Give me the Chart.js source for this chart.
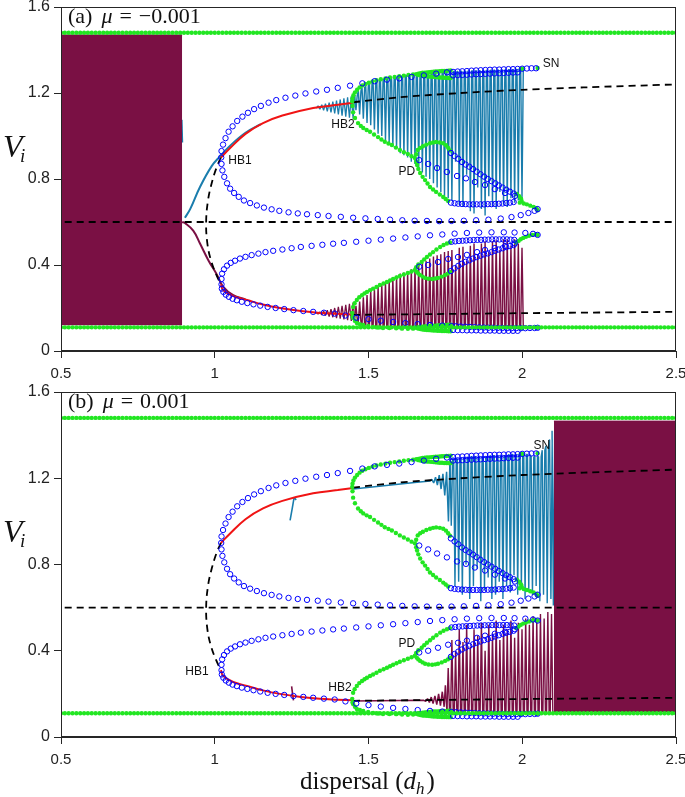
<!DOCTYPE html>
<html>
<head>
<meta charset="utf-8">
<script src="https://cdn.jsdelivr.net/npm/chart.js@4.4.1/dist/chart.umd.min.js"></script>
<style>
html, body { margin: 0; padding: 0; background: #fff; }
#wrap { position: relative; width: 685px; height: 797px; }
#c1 { position: absolute; left: 0; top: 0; }
#c2 { position: absolute; left: 0; top: 380px; }
</style>
</head>
<body>
<div id="wrap">
  <canvas id="c1" width="685" height="380"></canvas>
  <canvas id="c2" width="685" height="417"></canvas>
</div>
<script>
// ---- axis ticks
var xTicks = [0.5, 1, 1.5, 2, 2.5];
var yTicks = [0, 0.4, 0.8, 1.2, 1.6];

// ---- sweep of the attractor extremes (green dots along the top / bottom)
var sweepStart = 0.5, sweepEnd = 2.5, sweepStep = 0.0125;
var bandMax = 1.48, bandMin = 0.11;

// ---- equilibria (shared by both panels)
var eqMiddle = [[0.512,0.6],[2.5,0.6]];
var eqArc = [[1.02,0.90],[1.005,0.85],[0.99,0.78],[0.978,0.70],[0.972,0.60],[0.976,0.50],[0.988,0.42],[1.005,0.355],[1.02,0.31]];
var eqUpperStable = [[1.02,0.90],[1.05,0.944],[1.10,1.01],[1.157,1.06],[1.22,1.095],[1.32,1.13],[1.40,1.145],[1.45,1.155]];
var eqLowerStable = [[1.02,0.31],[1.027,0.284],[1.06,0.255],[1.105,0.237],[1.16,0.215],[1.212,0.20],[1.28,0.186],[1.342,0.177],[1.40,0.173],[1.45,0.17]];
var eqUpperUnstable = [[1.45,1.157],[1.6,1.18],[1.8,1.20],[2.0,1.215],[2.2,1.226],[2.5,1.24]];
var eqLowerUnstable = [[1.45,0.168],[1.8,0.173],[2.0,0.176],[2.5,0.182]];

// ---- unstable periodic orbits (blue rings)
var upoUpperMax = [[1.021,0.90],[1.022,0.93],[1.027,0.96],[1.035,0.99],[1.045,1.02],[1.058,1.045],[1.073,1.07],[1.09,1.09],[1.108,1.108],[1.128,1.125],[1.15,1.14],[1.175,1.155],[1.2,1.167],[1.23,1.178],[1.262,1.188],[1.295,1.198],[1.33,1.207],[1.365,1.215],[1.40,1.224],[1.44,1.234],[1.48,1.245],[1.52,1.255],[1.56,1.262],[1.60,1.268],[1.64,1.275],[1.68,1.282],[1.72,1.29],[1.755,1.296],[1.775,1.298],[1.79,1.30],[1.805,1.301],[1.82,1.302],[1.835,1.304],[1.85,1.305],[1.865,1.306],[1.88,1.307],[1.895,1.308],[1.91,1.309],[1.925,1.309],[1.94,1.31],[1.955,1.311],[1.97,1.311],[1.985,1.312],[2.0,1.313],[2.015,1.314],[2.03,1.315],[2.045,1.315]];
var upoUpperMax2 = [[1.775,1.282],[1.79,1.283],[1.805,1.284],[1.82,1.285],[1.835,1.286],[1.85,1.287],[1.865,1.288],[1.88,1.289],[1.895,1.29],[1.91,1.291],[1.925,1.292],[1.94,1.293],[1.955,1.294],[1.97,1.295],[1.985,1.296]];
var upoUpperMin = [[1.022,0.87],[1.025,0.84],[1.031,0.81],[1.04,0.78],[1.05,0.755],[1.063,0.735],[1.078,0.717],[1.095,0.70],[1.115,0.688],[1.137,0.677],[1.16,0.667],[1.185,0.659],[1.21,0.652],[1.24,0.645],[1.27,0.64],[1.30,0.636],[1.335,0.632],[1.37,0.628],[1.41,0.624],[1.45,0.62],[1.49,0.617],[1.53,0.614],[1.57,0.611],[1.61,0.608],[1.65,0.606],[1.69,0.605],[1.73,0.604],[1.77,0.605],[1.81,0.606],[1.85,0.608],[1.89,0.611],[1.93,0.616],[1.965,0.623],[1.995,0.632],[2.02,0.642],[2.04,0.652],[2.05,0.66]];
var upoLowerMax = [[1.022,0.335],[1.024,0.36],[1.03,0.38],[1.04,0.397],[1.052,0.41],[1.066,0.42],[1.082,0.43],[1.1,0.438],[1.12,0.446],[1.142,0.453],[1.165,0.46],[1.19,0.466],[1.22,0.472],[1.25,0.478],[1.28,0.484],[1.315,0.489],[1.35,0.494],[1.385,0.499],[1.42,0.503],[1.46,0.508],[1.50,0.513],[1.54,0.518],[1.58,0.523],[1.62,0.528],[1.66,0.533],[1.70,0.538],[1.74,0.542],[1.78,0.546],[1.82,0.549],[1.86,0.551],[1.90,0.552],[1.94,0.552],[1.975,0.551],[2.01,0.549],[2.035,0.545],[2.05,0.54]];
var upoLowerMin = [[1.022,0.31],[1.023,0.29],[1.028,0.275],[1.036,0.262],[1.046,0.252],[1.058,0.243],[1.072,0.236],[1.088,0.229],[1.106,0.223],[1.126,0.217],[1.148,0.211],[1.172,0.205],[1.198,0.2],[1.226,0.195],[1.256,0.19],[1.288,0.186],[1.32,0.182],[1.355,0.178],[1.39,0.174],[1.425,0.165],[1.46,0.155],[1.50,0.148],[1.54,0.141],[1.58,0.135],[1.62,0.13],[1.66,0.125],[1.70,0.121],[1.74,0.118],[1.77,0.116],[1.785,0.115],[1.80,0.114],[1.815,0.113],[1.83,0.112],[1.845,0.111],[1.86,0.11],[1.875,0.109],[1.89,0.108],[1.905,0.108],[1.92,0.107],[1.935,0.107],[1.95,0.106],[1.965,0.106],[1.98,0.106],[1.995,0.106],[2.01,0.106],[2.025,0.107],[2.04,0.107],[2.05,0.108]];
var upoLowerMin2 = [[1.775,0.098],[1.79,0.097],[1.805,0.097],[1.82,0.096],[1.835,0.096],[1.85,0.096],[1.865,0.095],[1.88,0.095],[1.895,0.095],[1.91,0.095],[1.925,0.094],[1.94,0.094],[1.955,0.094],[1.97,0.094],[1.985,0.094]];
var upoP1Upper = [[1.665,0.888],[1.694,0.870],[1.723,0.851],[1.755,0.833],[1.788,0.814],[1.817,0.803],[1.846,0.786],[1.879,0.772],[1.911,0.753],[1.944,0.735],[1.976,0.721]];
var upoP2UpperHigh = [[1.768,0.921],[1.78,0.907],[1.792,0.894],[1.804,0.879],[1.816,0.867],[1.828,0.857],[1.84,0.846],[1.852,0.834],[1.864,0.822],[1.876,0.811],[1.888,0.80],[1.90,0.79],[1.912,0.78],[1.924,0.77],[1.936,0.76],[1.948,0.75],[1.96,0.741],[1.972,0.732]];
var upoP2UpperLow = [[1.768,0.69],[1.78,0.687],[1.792,0.685],[1.804,0.684],[1.816,0.683],[1.828,0.682],[1.84,0.682],[1.852,0.682],[1.864,0.682],[1.876,0.682],[1.888,0.683],[1.90,0.683],[1.912,0.684],[1.924,0.685],[1.936,0.686],[1.948,0.688],[1.96,0.69],[1.972,0.693]];
var upoP1Lower = [[1.665,0.392],[1.694,0.40],[1.726,0.414],[1.759,0.428],[1.791,0.437],[1.82,0.447],[1.853,0.46],[1.879,0.47],[1.911,0.479],[1.944,0.488],[1.976,0.50]];
var upoP2LowerHigh = [[1.77,0.508],[1.782,0.51],[1.794,0.512],[1.806,0.513],[1.818,0.514],[1.83,0.515],[1.842,0.516],[1.854,0.517],[1.866,0.517],[1.878,0.518],[1.89,0.518],[1.902,0.519],[1.914,0.519],[1.926,0.519],[1.938,0.519],[1.95,0.519],[1.962,0.518],[1.974,0.517]];
var upoP2LowerLow = [[1.768,0.372],[1.78,0.385],[1.792,0.396],[1.804,0.406],[1.816,0.415],[1.828,0.422],[1.84,0.43],[1.852,0.437],[1.864,0.443],[1.876,0.449],[1.888,0.454],[1.90,0.46],[1.912,0.466],[1.924,0.472],[1.936,0.478],[1.948,0.483],[1.96,0.488],[1.972,0.493]];

// ---- stable periodic orbits (green dots)
var poUpperMax = [[1.447,1.16],[1.448,1.175],[1.451,1.19],[1.456,1.203],[1.463,1.215],[1.471,1.226],[1.48,1.235],[1.49,1.242],[1.501,1.248],[1.513,1.254],[1.526,1.259],[1.54,1.264],[1.555,1.268],[1.57,1.272],[1.585,1.275],[1.60,1.278],[1.615,1.281],[1.63,1.284],[1.645,1.286]];
var poUpperMin = [[1.448,1.14],[1.45,1.11],[1.456,1.084],[1.466,1.06],[1.475,1.047],[1.483,1.037],[1.494,1.028],[1.505,1.02],[1.518,1.007],[1.531,0.995],[1.542,0.984],[1.553,0.973],[1.565,0.965],[1.576,0.958],[1.589,0.946],[1.602,0.935],[1.615,0.925],[1.628,0.916],[1.64,0.906],[1.651,0.898]];
var poLowerMax = [[1.447,0.177],[1.45,0.205],[1.455,0.222],[1.462,0.237],[1.47,0.25],[1.479,0.26],[1.487,0.268],[1.495,0.275],[1.505,0.283],[1.515,0.29],[1.526,0.298],[1.537,0.307],[1.549,0.314],[1.56,0.321],[1.57,0.328],[1.58,0.335],[1.591,0.342],[1.602,0.349],[1.615,0.356],[1.628,0.363],[1.64,0.37],[1.651,0.377]];
var poLowerMin = [[1.448,0.16],[1.45,0.153],[1.456,0.14],[1.462,0.13],[1.472,0.125],[1.483,0.121],[1.499,0.116],[1.515,0.112],[1.531,0.109],[1.547,0.107],[1.568,0.107],[1.59,0.106],[1.609,0.104],[1.628,0.103],[1.645,0.104]];
var lensTopHigh = [[1.655,1.288],[1.662,1.29],[1.669,1.292],[1.676,1.294],[1.683,1.295],[1.69,1.296],[1.697,1.297],[1.704,1.298],[1.711,1.299],[1.718,1.30],[1.725,1.30],[1.732,1.301],[1.739,1.302],[1.746,1.302],[1.753,1.303],[1.76,1.304],[1.767,1.305]];
var lensTopLow = [[1.662,1.284],[1.669,1.282],[1.676,1.28],[1.683,1.279],[1.69,1.278],[1.697,1.277],[1.704,1.276],[1.711,1.275],[1.718,1.274],[1.725,1.273],[1.732,1.272],[1.739,1.272],[1.746,1.271],[1.753,1.271],[1.76,1.27],[1.767,1.27]];
var lensBottomHigh = [[1.655,0.108],[1.662,0.11],[1.669,0.112],[1.676,0.113],[1.683,0.114],[1.69,0.115],[1.697,0.116],[1.704,0.117],[1.711,0.118],[1.718,0.118],[1.725,0.119],[1.732,0.12],[1.739,0.12],[1.746,0.121],[1.753,0.121],[1.76,0.122],[1.767,0.122]];
var lensBottomLow = [[1.662,0.104],[1.669,0.102],[1.676,0.1],[1.683,0.099],[1.69,0.098],[1.697,0.097],[1.704,0.096],[1.711,0.095],[1.718,0.095],[1.725,0.094],[1.732,0.094],[1.739,0.093],[1.746,0.093],[1.753,0.093],[1.76,0.092],[1.767,0.092]];
var pdUpperHigh = [[1.655,0.915],[1.66,0.935],[1.668,0.945],[1.677,0.952],[1.688,0.96],[1.70,0.966],[1.71,0.97],[1.72,0.972],[1.732,0.97],[1.743,0.966],[1.752,0.957],[1.759,0.945],[1.765,0.933]];
var pdUpperLow = [[1.655,0.88],[1.658,0.865],[1.662,0.847],[1.668,0.828],[1.676,0.81],[1.684,0.795],[1.692,0.779],[1.70,0.763],[1.71,0.751],[1.72,0.74],[1.732,0.728],[1.743,0.716],[1.751,0.707],[1.759,0.698]];
var pdLowerHigh = [[1.655,0.39],[1.662,0.402],[1.673,0.414],[1.681,0.426],[1.69,0.437],[1.70,0.449],[1.71,0.46],[1.721,0.472],[1.733,0.484],[1.744,0.493],[1.755,0.50],[1.765,0.505]];
var pdLowerLow = [[1.657,0.368],[1.662,0.36],[1.668,0.353],[1.676,0.346],[1.684,0.34],[1.695,0.336],[1.707,0.335],[1.717,0.337],[1.726,0.34],[1.738,0.346],[1.749,0.353],[1.758,0.36],[1.765,0.368]];
var foldUpper = [[1.982,0.73],[1.99,0.72],[1.996,0.708],[1.998,0.698],[1.992,0.69],[2.005,0.686],[2.015,0.682],[2.026,0.676],[2.037,0.67],[2.046,0.664]];
var foldLower = [[1.98,0.505],[1.988,0.512],[1.995,0.52],[2.003,0.526],[2.012,0.531],[2.022,0.536],[2.033,0.54],[2.044,0.543]];
var snDots = [[1.995,1.312],[2.0,1.313],[2.05,1.316],[1.995,0.106],[2.0,0.106],[2.05,0.108],[2.05,0.655],[2.05,0.54]];

// ---- panel (a) simulation, mu = -0.001
var blockA = [[0.5,1.47],[0.894,1.47]];
var blockBaseA = 0.12;
var tealEdgeA = [[0.893,1.075],[0.895,0.97]];
var tealLineA = [[0.903,0.62],[0.92,0.66],[0.952,0.763],[0.99,0.86],[1.017,0.905],[1.05,0.955],[1.10,1.015],[1.15,1.055]];
var maroonLineA = [[0.894,0.6],[0.903,0.595],[0.93,0.56],[0.952,0.50],[0.98,0.42],[1.007,0.355],[1.027,0.30],[1.06,0.26],[1.10,0.24]];
var tealOscA = [[1.33,1.13],[1.336,1.14],[1.342,1.125],[1.348,1.145],[1.354,1.12],[1.36,1.15],[1.366,1.115],[1.372,1.155],[1.378,1.11],[1.384,1.16],[1.39,1.105],[1.396,1.165],[1.402,1.10],[1.408,1.17],[1.414,1.095],[1.42,1.175],[1.426,1.09],[1.432,1.18],[1.438,1.085],[1.444,1.185],[1.45,1.08],[1.455,1.19]];
var maroonOscA = [[1.33,0.178],[1.336,0.172],[1.342,0.182],[1.348,0.168],[1.354,0.186],[1.36,0.165],[1.366,0.19],[1.372,0.16],[1.378,0.195],[1.384,0.157],[1.39,0.20],[1.396,0.153],[1.402,0.205],[1.408,0.15],[1.414,0.21],[1.42,0.147],[1.426,0.215],[1.432,0.143],[1.438,0.22],[1.444,0.14],[1.45,0.225],[1.455,0.15]];
// [d, top, bottom]
var tealSpikesA = [[1.455,1.19,1.12],[1.467,1.21,1.10],[1.479,1.225,1.08],[1.491,1.235,1.06],[1.503,1.245,1.05],[1.515,1.25,1.03],[1.527,1.255,1.01],[1.539,1.26,1.00],[1.551,1.265,0.98],[1.563,1.268,0.97],[1.575,1.272,0.95],[1.587,1.275,0.94],[1.599,1.278,0.92],[1.611,1.28,0.91],[1.623,1.283,0.90],[1.635,1.285,0.88],[1.647,1.287,0.87],[1.659,1.289,0.85],[1.671,1.29,0.83],[1.683,1.292,0.81],[1.695,1.293,0.80],[1.707,1.295,0.78],[1.719,1.296,0.76],[1.731,1.297,0.74],[1.743,1.298,0.72],[1.755,1.299,0.71],[1.767,1.30,0.70],[1.779,1.30,0.88],[1.791,1.30,0.68],[1.803,1.302,0.67],[1.815,1.302,0.82],[1.827,1.303,0.65],[1.839,1.303,0.64],[1.851,1.304,0.76],[1.863,1.304,0.66],[1.875,1.305,0.63],[1.887,1.305,0.72],[1.899,1.306,0.67],[1.911,1.306,0.66],[1.923,1.307,0.74],[1.935,1.307,0.68],[1.947,1.308,0.67],[1.959,1.308,0.71],[1.971,1.309,0.69],[1.983,1.309,0.70],[1.995,1.31,0.71]];
// [d, base, tip]
var maroonSpikesA = [[1.455,0.15,0.21],[1.467,0.135,0.23],[1.479,0.125,0.25],[1.491,0.12,0.26],[1.503,0.118,0.28],[1.515,0.115,0.29],[1.527,0.113,0.30],[1.539,0.112,0.31],[1.551,0.111,0.32],[1.563,0.11,0.33],[1.575,0.11,0.34],[1.587,0.11,0.35],[1.599,0.11,0.36],[1.611,0.11,0.365],[1.623,0.11,0.37],[1.635,0.11,0.38],[1.647,0.11,0.39],[1.659,0.11,0.40],[1.671,0.11,0.41],[1.683,0.11,0.42],[1.695,0.11,0.43],[1.707,0.11,0.44],[1.719,0.11,0.445],[1.731,0.11,0.45],[1.743,0.11,0.46],[1.755,0.11,0.465],[1.767,0.11,0.47],[1.779,0.11,0.40],[1.791,0.11,0.48],[1.803,0.11,0.485],[1.815,0.11,0.42],[1.827,0.11,0.49],[1.839,0.11,0.50],[1.851,0.11,0.45],[1.863,0.11,0.50],[1.875,0.11,0.51],[1.887,0.11,0.46],[1.899,0.11,0.51],[1.911,0.11,0.515],[1.923,0.11,0.47],[1.935,0.11,0.52],[1.947,0.11,0.52],[1.959,0.11,0.49],[1.971,0.11,0.52],[1.983,0.11,0.50],[1.995,0.11,0.48]];

// ---- panel (b) simulation, mu = 0.001
var blockB = [[2.103,1.465],[2.5,1.465]];
var blockBaseB = 0.115;
var tealGlitchB = [[1.245,1.005],[1.252,1.06],[1.258,1.11],[1.265,1.10]];
var maroonGlitchB = [[1.25,0.235],[1.253,0.2],[1.256,0.17]];
var tealLineB = [[1.45,1.15],[1.55,1.165],[1.65,1.18],[1.70,1.187],[1.706,1.195],[1.712,1.178],[1.718,1.205],[1.724,1.168],[1.73,1.215],[1.736,1.15],[1.742,1.22],[1.748,1.12],[1.754,1.23],[1.76,1.0],[1.765,1.29]];
var maroonLineB = [[1.45,0.167],[1.68,0.17],[1.686,0.165],[1.692,0.178],[1.698,0.16],[1.704,0.185],[1.71,0.155],[1.716,0.19],[1.722,0.15],[1.728,0.2],[1.734,0.145],[1.74,0.21],[1.746,0.14],[1.75,0.24],[1.755,0.12]];
var tealSpikesB = [[1.765,1.29,0.98],[1.777,1.29,0.70],[1.789,1.29,0.72],[1.801,1.295,0.66],[1.813,1.295,0.80],[1.825,1.30,0.64],[1.837,1.30,0.70],[1.849,1.30,0.78],[1.861,1.30,0.63],[1.873,1.30,0.68],[1.885,1.30,0.74],[1.897,1.305,0.64],[1.909,1.305,0.66],[1.921,1.305,0.72],[1.933,1.305,0.64],[1.945,1.305,0.70],[1.957,1.31,0.67],[1.969,1.31,0.75],[1.981,1.31,0.66],[1.993,1.31,0.69],[2.005,1.31,0.64],[2.017,1.31,0.68],[2.029,1.30,0.66],[2.041,1.30,0.70],[2.053,1.30,0.63],[2.065,1.33,0.66],[2.077,1.35,0.62],[2.089,1.38,0.64],[2.097,1.42,0.61]];
var maroonSpikesB = [[1.755,0.12,0.32],[1.767,0.115,0.45],[1.779,0.11,0.40],[1.791,0.11,0.50],[1.803,0.11,0.44],[1.815,0.11,0.52],[1.827,0.11,0.42],[1.839,0.11,0.50],[1.851,0.11,0.47],[1.863,0.11,0.53],[1.875,0.11,0.40],[1.887,0.11,0.52],[1.899,0.11,0.48],[1.911,0.11,0.54],[1.923,0.11,0.45],[1.935,0.11,0.52],[1.947,0.11,0.50],[1.959,0.11,0.54],[1.971,0.11,0.46],[1.983,0.11,0.53],[1.995,0.11,0.50],[2.007,0.11,0.55],[2.019,0.11,0.52],[2.031,0.11,0.56],[2.043,0.11,0.54],[2.055,0.11,0.57],[2.067,0.11,0.55],[2.079,0.11,0.58],[2.091,0.11,0.57]];

// ---- labels
var notesA = [["HB1",1.082,0.884],["HB2",1.417,1.051],["PD",1.625,0.833],["SN",2.094,1.335]];
var notesB = [["HB1",0.942,0.301],["HB2",1.407,0.227],["PD",1.625,0.431],["SN",2.064,1.35]];

var GREEN = "#22e622", BLUE = "#0000ff", RED = "#f01414", TEAL = "#1a7dad", MAROON = "#7a1044", INK = "#262626";

function pts(rows) { return rows.map(function (r) { return {x: r[0], y: r[1]}; }); }

// spikes hanging from the top value down to the bottom value
function spikes(rows) {
  var out = [];
  rows.forEach(function (r) {
    out.push({x: r[0], y: r[1]}, {x: r[0] + 0.0042, y: r[2]}, {x: r[0] + 0.0084, y: r[1]});
  });
  return out;
}

var sweep = [];
for (var d = sweepStart; d <= sweepEnd + 1e-9; d += sweepStep) sweep.push(d);

function dots(rows, order) {
  return {data: pts(rows), showLine: false, pointRadius: 2.2, pointBorderWidth: 0,
    pointBackgroundColor: GREEN, pointHoverRadius: 0, order: order || 3};
}
function rings(rows) {
  return {data: pts(rows), showLine: false, pointRadius: 2.7, pointBorderWidth: 1,
    pointBorderColor: BLUE, pointBackgroundColor: "rgba(0,0,0,0)", order: 2};
}
function curve(data, color, width, dash, tension, order) {
  return {data: data, showLine: true, pointRadius: 0, borderColor: color, borderWidth: width,
    borderDash: dash || [], tension: tension || 0, borderJoinStyle: "bevel", fill: false, order: order};
}
function block(rows, base) {
  return {data: pts(rows), showLine: true, pointRadius: 0, borderColor: MAROON, borderWidth: 1,
    backgroundColor: MAROON, fill: {value: base}, order: 6};
}

function sharedSets() {
  return [
    dots(sweep.map(function (v) { return [v, bandMax]; }), 1),
    dots(sweep.map(function (v) { return [v, bandMin]; }), 1),
    rings(upoUpperMax), rings(upoUpperMax2), rings(upoUpperMin),
    rings(upoLowerMax), rings(upoLowerMin), rings(upoLowerMin2),
    rings(upoP1Upper), rings(upoP2UpperHigh), rings(upoP2UpperLow),
    rings(upoP1Lower), rings(upoP2LowerHigh), rings(upoP2LowerLow),
    dots(poUpperMax), dots(poUpperMin), dots(poLowerMax), dots(poLowerMin),
    dots(lensTopHigh), dots(lensTopLow), dots(lensBottomHigh), dots(lensBottomLow),
    dots(pdUpperHigh), dots(pdUpperLow), dots(pdLowerHigh), dots(pdLowerLow),
    dots(foldUpper), dots(foldLower), dots(snDots),
    curve(pts(eqMiddle), "#000", 1.8, [7, 5], 0, 4),
    curve(pts(eqArc), "#000", 1.8, [7, 5], 0.4, 4),
    curve(pts(eqUpperUnstable), "#000", 1.8, [7, 5], 0.3, 4),
    curve(pts(eqLowerUnstable), "#000", 1.8, [7, 5], 0.3, 4),
    curve(pts(eqUpperStable), RED, 2, [], 0.4, 5),
    curve(pts(eqLowerStable), RED, 2, [], 0.4, 5)
  ];
}

var setsA = sharedSets().concat([
  block(blockA, blockBaseA),
  curve(pts(tealEdgeA), TEAL, 1.5, [], 0, 7),
  curve(pts(tealLineA), TEAL, 2, [], 0.4, 7),
  curve(pts(maroonLineA), MAROON, 2, [], 0.4, 6),
  curve(pts(tealOscA), TEAL, 1.3, [], 0, 7),
  curve(pts(maroonOscA), MAROON, 1.3, [], 0, 6),
  curve(spikes(tealSpikesA), TEAL, 1.4, [], 0, 7),
  curve(spikes(maroonSpikesA), MAROON, 1.4, [], 0, 6)
]);

var setsB = sharedSets().concat([
  block(blockB, blockBaseB),
  curve(pts(tealGlitchB), TEAL, 1.6, [], 0, 7),
  curve(pts(maroonGlitchB), MAROON, 1.6, [], 0, 6),
  curve(pts(tealLineB), TEAL, 1.5, [], 0, 7),
  curve(pts(maroonLineB), MAROON, 1.5, [], 0, 6),
  curve(spikes(tealSpikesB), TEAL, 1.4, [], 0, 7),
  curve(spikes(maroonSpikesB), MAROON, 1.4, [], 0, 6)
]);

// text and frame drawn on top of the plot
var decor = {
  id: "decor",
  afterDraw: function (chart, args, opts) {
    var ctx = chart.ctx, a = chart.chartArea, x = chart.scales.x, y = chart.scales.y;
    ctx.save();
    ctx.strokeStyle = INK;
    ctx.lineWidth = 1;
    ctx.strokeRect(Math.round(a.left) + 0.5, Math.round(a.top) + 0.5,
      Math.round(a.right - a.left) - 1, Math.round(a.bottom - a.top) - 1);

    ctx.fillStyle = "#111";
    ctx.font = "12px 'Liberation Sans'";
    ctx.textAlign = "center";
    ctx.textBaseline = "middle";
    opts.notes.forEach(function (n) {
      ctx.fillText(n[0], x.getPixelForValue(n[1]), y.getPixelForValue(n[2]));
    });

    // panel tag
    ctx.textAlign = "left";
    ctx.textBaseline = "alphabetic";
    var px = a.left + 7, py = a.top + 16;
    ctx.font = "22px 'Liberation Serif'";
    ctx.fillText(opts.tag, px, py);
    px += ctx.measureText(opts.tag).width + 9;
    ctx.font = "italic 22px 'Liberation Serif'";
    ctx.fillText("\u03bc", px, py);
    px += ctx.measureText("\u03bc").width + 7;
    ctx.font = "22px 'Liberation Serif'";
    ctx.fillText("=", px, py);
    px += ctx.measureText("=").width + 7;
    ctx.fillText(opts.mu, px, py);

    // y title V_i
    ctx.font = "italic 32px 'Liberation Serif'";
    ctx.fillText("V", 3, a.top + 150);
    ctx.font = "italic 19px 'Liberation Serif'";
    ctx.fillText("i", 20, a.top + 155);

    if (opts.xTitle) {
      var parts = [["dispersal (", "25px 'Liberation Serif'", 0], ["d", "italic 25px 'Liberation Serif'", 0],
        ["h", "italic 17px 'Liberation Serif'", 5], [")", "25px 'Liberation Serif'", 0]];
      var total = 0;
      parts.forEach(function (p) { ctx.font = p[1]; total += ctx.measureText(p[0]).width; });
      var tx = (a.left + a.right) / 2 - total / 2 - 2, ty = a.bottom + 52;
      parts.forEach(function (p) {
        ctx.font = p[1];
        ctx.fillText(p[0], tx, ty + p[2]);
        tx += ctx.measureText(p[0]).width + (p[0] === "h" ? 2 : 0);
      });
    }
    ctx.restore();
  }
};

function squeeze(size, horizontal) {
  return function (s) {
    if (horizontal) s.height = size; else s.width = size;
    s.paddingTop = 0; s.paddingBottom = 0; s.paddingLeft = 0; s.paddingRight = 0;
  };
}

function makeChart(id, sets, top, xHeight, notes, tag, mu, xTitle) {
  return new Chart(document.getElementById(id), {
    type: "scatter",
    data: {datasets: sets},
    options: {
      responsive: false,
      animation: false,
      devicePixelRatio: 1,
      events: [],
      layout: {padding: {left: 0, right: 9, top: top, bottom: 0}},
      plugins: {
        legend: {display: false},
        tooltip: {enabled: false},
        decor: {notes: notes, tag: tag, mu: mu, xTitle: xTitle}
      },
      scales: {
        x: {
          type: "linear", min: xTicks[0], max: xTicks[xTicks.length - 1],
          afterBuildTicks: function (s) { s.ticks = xTicks.map(function (v) { return {value: v}; }); },
          afterFit: squeeze(xHeight, true),
          ticks: {padding: 7, color: "#222", font: {family: "'Liberation Sans'", size: 15},
            maxRotation: 0, callback: function (v) { return String(v); }},
          grid: {drawOnChartArea: false, drawTicks: true, tickLength: 7, color: INK},
          border: {display: true, color: INK, width: 1}
        },
        y: {
          type: "linear", min: yTicks[0], max: yTicks[yTicks.length - 1],
          afterBuildTicks: function (s) { s.ticks = yTicks.map(function (v) { return {value: v}; }); },
          afterFit: squeeze(61, false),
          ticks: {padding: 4, color: "#222", font: {family: "'Liberation Sans'", size: 16},
            callback: function (v) { return v === 0 ? "0" : v.toFixed(1); }},
          grid: {drawOnChartArea: false, drawTicks: true, tickLength: 7, color: INK},
          border: {display: true, color: INK, width: 1}
        }
      }
    },
    plugins: [decor]
  });
}

makeChart("c1", setsA, 7, 29, notesA, "(a)", "\u22120.001", false);
makeChart("c2", setsB, 12, 60, notesB, "(b)", "0.001", true);
</script>
</body>
</html>
